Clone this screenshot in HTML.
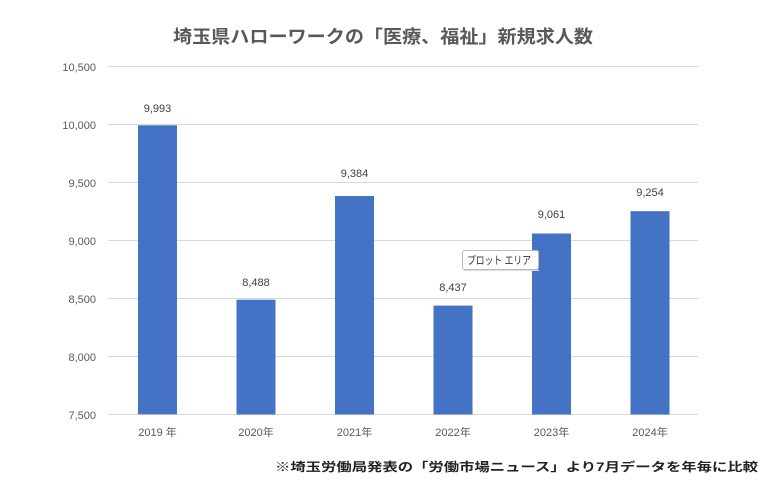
<!DOCTYPE html>
<html><head><meta charset="utf-8"><style>
body{margin:0;background:#fff;}
svg{display:block;font-family:"Liberation Sans","Noto Sans CJK JP",sans-serif;}
</style></head><body>
<svg width="773" height="488" viewBox="0 0 773 488">
<rect width="773" height="488" fill="#fff"/>
<text x="173" y="43" textLength="420" lengthAdjust="spacingAndGlyphs" font-size="18" font-weight="bold" fill="#595959">埼玉県ハローワークの「医療、福祉」新規求人数</text>
<g stroke="#d9d9d9" stroke-width="1">
<line x1="108" x2="698" y1="66.5" y2="66.5"/>
<line x1="108" x2="698" y1="124.5" y2="124.5"/>
<line x1="108" x2="698" y1="182.5" y2="182.5"/>
<line x1="108" x2="698" y1="240.5" y2="240.5"/>
<line x1="108" x2="698" y1="298.5" y2="298.5"/>
<line x1="108" x2="698" y1="356.5" y2="356.5"/>
<line x1="108" x2="698" y1="414.5" y2="414.5"/>
</g>
<g font-size="11" fill="#595959" text-anchor="end">
<text x="96" y="71">10,500</text>
<text x="96" y="129">10,000</text>
<text x="96" y="187">9,500</text>
<text x="96" y="245">9,000</text>
<text x="96" y="303">8,500</text>
<text x="96" y="361">8,000</text>
<text x="96" y="419">7,500</text>
</g>
<g fill="#4472c4">
<rect x="138" y="125.3" width="39" height="289"/>
<rect x="236.5" y="299.7" width="39" height="114.8"/>
<rect x="335" y="196" width="39" height="218.5"/>
<rect x="433.5" y="305.6" width="39" height="108.9"/>
<rect x="532" y="233.5" width="39" height="181"/>
<rect x="630.5" y="211.2" width="39" height="203.3"/>
</g>
<g font-size="11" fill="#404040" text-anchor="middle">
<text x="157.5" y="112">9,993</text>
<text x="256" y="286">8,488</text>
<text x="354.5" y="177">9,384</text>
<text x="453" y="291">8,437</text>
<text x="551.5" y="218">9,061</text>
<text x="650" y="196">9,254</text>
</g>
<g font-size="11" fill="#595959" text-anchor="middle">
<text x="157.5" y="436">2019 年</text>
<text x="256" y="436">2020年</text>
<text x="354.5" y="436">2021年</text>
<text x="453" y="436">2022年</text>
<text x="551.5" y="436">2023年</text>
<text x="650" y="436">2024年</text>
</g>
<rect x="462.5" y="250.5" width="76" height="19" fill="#fff" stroke="#bbb" rx="2"/>
<line x1="464" x2="539" y1="270.5" y2="270.5" stroke="#ddd"/>
<text x="467" y="264" textLength="64" lengthAdjust="spacingAndGlyphs" font-size="11" fill="#333">プロット エリア</text>
<text x="275" y="471" textLength="483" lengthAdjust="spacingAndGlyphs" font-size="12" font-weight="bold" fill="#222">※埼玉労働局発表の「労働市場ニュース」より7月データを年毎に比較</text>
</svg>
</body></html>
